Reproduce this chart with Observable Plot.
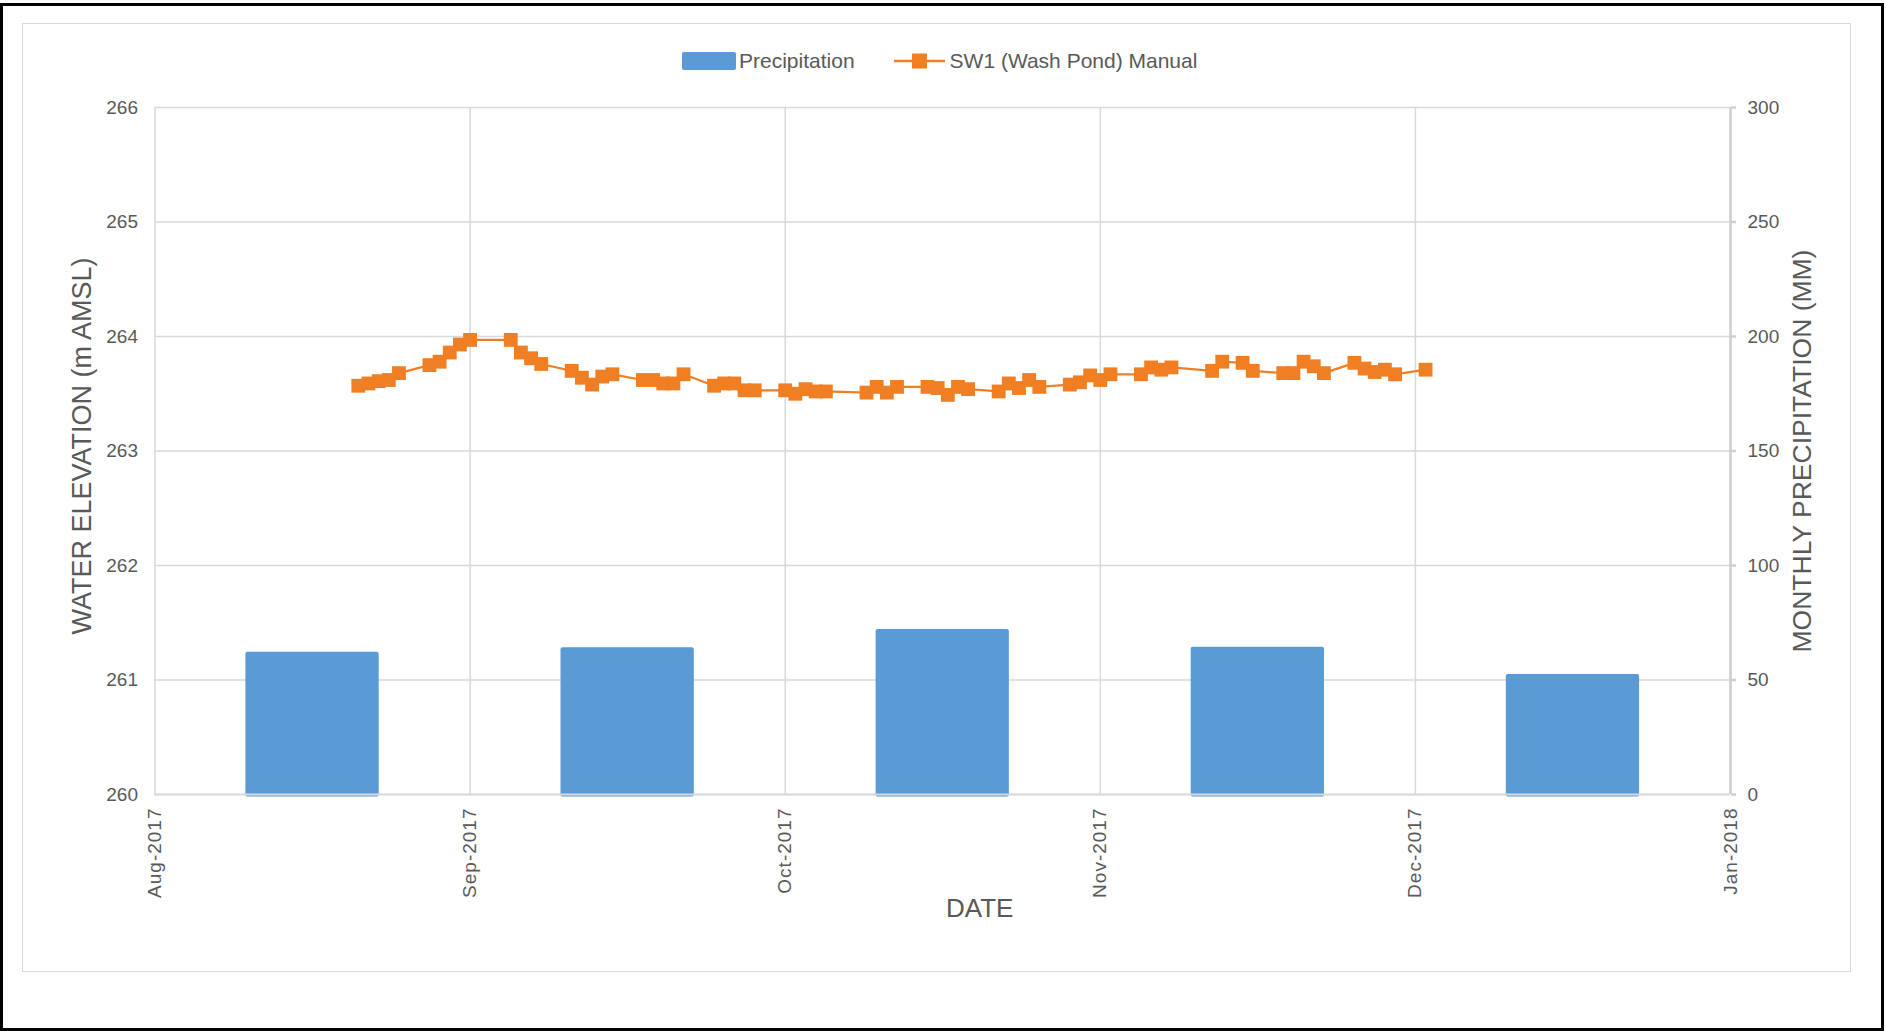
<!DOCTYPE html>
<html>
<head>
<meta charset="utf-8">
<script src="https://cdn.jsdelivr.net/npm/d3@7"></script>
<script src="https://cdn.jsdelivr.net/npm/@observablehq/plot@0.6"></script>
<style>
  html, body { margin: 0; padding: 0; background: #fff; }
  #page { position: relative; width: 1886px; height: 1031px; overflow: hidden; font-family: "Liberation Sans", Arial, sans-serif; }
  #outer { position: absolute; left: 0; top: 3px; width: 1884px; height: 1028px; box-sizing: border-box; border: 3.5px solid #000; }
  #inner { position: absolute; left: 22px; top: 23px; width: 1829px; height: 949px; box-sizing: border-box; border: 1.5px solid #d9d9d9; }
  #legend { position: absolute; left: 682px; top: 46px; height: 30px; display: flex; align-items: center; color: #595959; font-size: 21px; white-space: nowrap; }
  #legend .sw { width: 54px; height: 18px; background: #5B9BD5; border-radius: 2px; margin-right: 3px; }
  #legend .gap { width: 39px; }
  #legend svg { margin-right: 5px; }
  #chart { position: absolute; left: 0; top: 80px; }
  #chart g[aria-label="x-axis tick label"] text { letter-spacing: 1px; }
</style>
</head>
<body>
<div id="page">
  <div id="outer"></div>
  <div id="inner"></div>
  <div id="legend"></div>
  <div id="chart"></div>
</div>
<script>
// ---- data ----
const seriesNames = ["Precipitation", "SW1 (Wash Pond) Manual"];
const xTickDates = ["2017-08-01", "2017-09-01", "2017-10-02", "2017-11-02", "2017-12-03", "2018-01-03"];
const xTickLabels = ["Aug-2017", "Sep-2017", "Oct-2017", "Nov-2017", "Dec-2017", "Jan-2018"];
const yLeftTicks = [260, 261, 262, 263, 264, 265, 266];
const yRightTicks = [0, 50, 100, 150, 200, 250, 300];
const precipMonths = ["Aug-2017", "Sep-2017", "Oct-2017", "Nov-2017", "Dec-2017"];
const precipValues = [62.1, 64.1, 72.1, 64.3, 52.4];
const swDates = [
  "2017-08-21","2017-08-22","2017-08-23","2017-08-24","2017-08-25","2017-08-28","2017-08-29","2017-08-30","2017-08-31",
  "2017-09-01","2017-09-05","2017-09-06","2017-09-07","2017-09-08","2017-09-11","2017-09-12","2017-09-13","2017-09-14","2017-09-15",
  "2017-09-18","2017-09-19","2017-09-20","2017-09-21","2017-09-22","2017-09-25","2017-09-26","2017-09-27","2017-09-28","2017-09-29",
  "2017-10-02","2017-10-03","2017-10-04","2017-10-05","2017-10-06","2017-10-10","2017-10-11","2017-10-12","2017-10-13",
  "2017-10-16","2017-10-17","2017-10-18","2017-10-19","2017-10-20","2017-10-23","2017-10-24","2017-10-25","2017-10-26","2017-10-27",
  "2017-10-30","2017-10-31","2017-11-01","2017-11-02","2017-11-03","2017-11-06","2017-11-07","2017-11-08","2017-11-09",
  "2017-11-13","2017-11-14","2017-11-16","2017-11-17","2017-11-20","2017-11-21","2017-11-22","2017-11-23","2017-11-24",
  "2017-11-27","2017-11-28","2017-11-29","2017-11-30","2017-12-01","2017-12-04"
];
const swLevels = [
  263.57,263.59,263.61,263.62,263.68,263.75,263.78,263.86,263.93,
  263.97,263.97,263.86,263.81,263.76,263.70,263.64,263.58,263.65,263.67,
  263.62,263.62,263.59,263.59,263.67,263.57,263.59,263.59,263.53,263.53,
  263.53,263.50,263.54,263.52,263.52,263.51,263.56,263.51,263.56,
  263.56,263.55,263.49,263.56,263.54,263.52,263.59,263.55,263.62,263.56,
  263.58,263.60,263.66,263.62,263.67,263.67,263.73,263.71,263.73,
  263.70,263.78,263.77,263.70,263.68,263.68,263.78,263.74,263.68,
  263.77,263.72,263.69,263.71,263.67,263.71
];

// ---- styles ----
const BLUE = "#5B9BD5";
const ORANGE = "#F07F24";
const GRID = "#d9d9d9";
const TEXT = "#595959";
const BAR_FRACTION = 0.423;

// ---- derived tables ----
const tickDates = xTickDates.map(s => new Date(s));
const sw = swDates.map((d, i) => ({date: new Date(d), level: swLevels[i]}));
// secondary (mm) axis mapped onto the elevation scale: 0..300 mm <-> 260..266 m
const mmToElev = mm => 260 + mm / 50;
const elevToMm = e => String(Math.round((e - 260) * 50));
const precip = precipMonths.map((m, i) => {
  const a = +tickDates[i], b = +tickDates[i + 1];
  const pad = (b - a) * (1 - BAR_FRACTION) / 2;
  return {month: m, mm: precipValues[i], x1: new Date(a + pad), x2: new Date(b - pad)};
});

// ---- legend ----
const legend = document.getElementById("legend");
legend.innerHTML = `
  <div class="sw"></div><span>${seriesNames[0]}</span><div class="gap"></div>
  <svg width="51" height="16" viewBox="0 0 51 16"><line x1="0" y1="8" x2="51" y2="8" stroke="${ORANGE}" stroke-width="2.5"/><rect x="18" y="0.5" width="15" height="15" fill="${ORANGE}"/></svg><span>${seriesNames[1]}</span>`;

// ---- chart ----
const chart = Plot.plot({
  width: 1886,
  height: 951,
  marginLeft: 154.5,
  marginRight: 156,
  marginTop: 27,
  marginBottom: 237,
  style: {fontFamily: '"Liberation Sans", Arial, sans-serif', color: TEXT, background: "transparent", overflow: "visible"},
  x: {type: "utc", domain: [tickDates[0], tickDates[tickDates.length - 1]]},
  y: {domain: [yLeftTicks[0], yLeftTicks[yLeftTicks.length - 1]]},
  marks: [
    Plot.gridY(yLeftTicks, {stroke: GRID, strokeOpacity: 1, strokeWidth: 1.5}),
    Plot.gridX(tickDates, {stroke: GRID, strokeOpacity: 1, strokeWidth: 1.5}),
    Plot.rect(precip, {x1: "x1", x2: "x2", y1: () => 260, y2: d => mmToElev(d.mm), fill: BLUE, rx: 2, insetBottom: -2.5}),
    Plot.ruleY([yLeftTicks[0]], {stroke: GRID, strokeWidth: 2}),
    Plot.ruleX([tickDates[tickDates.length - 1]], {stroke: "#cfcfcf", strokeWidth: 2.5}),
    Plot.line(sw, {x: "date", y: "level", stroke: ORANGE, strokeWidth: 2.25}),
    Plot.dot(sw, {x: "date", y: "level", symbol: "square", fill: ORANGE, r: 7.8}),
    Plot.axisY(yLeftTicks, {anchor: "left", tickSize: 0, tickPadding: 17, fontSize: 19, fill: TEXT, label: null, tickFormat: d => String(d)}),
    Plot.axisY(yRightTicks.map(mmToElev), {anchor: "right", tickSize: 5, tickPadding: 12, fontSize: 19, fill: TEXT, stroke: "#cfcfcf", strokeWidth: 2.5, tickFormat: elevToMm, label: null}),
    Plot.axisX(tickDates, {anchor: "bottom", tickSize: 0, tickPadding: 13, tickRotate: -90, fontSize: 19, fill: TEXT, label: null,
      tickFormat: d => xTickLabels[tickDates.findIndex(t => +t === +d)]}),
    Plot.text(["DATE"], {frameAnchor: "bottom", dy: 122, dx: 37, fontSize: 26, fill: TEXT}),
    Plot.text(["WATER ELEVATION (m AMSL)"], {frameAnchor: "left", textAnchor: "middle", rotate: -90, dx: -72.5, dy: -5, fontSize: 27, fill: TEXT}),
    Plot.text(["MONTHLY PRECIPITATION (MM)"], {frameAnchor: "right", textAnchor: "middle", rotate: -90, dx: 72, dy: 0, fontSize: 26.5, fill: TEXT})
  ]
});
document.getElementById("chart").appendChild(chart);
</script>
</body>
</html>
